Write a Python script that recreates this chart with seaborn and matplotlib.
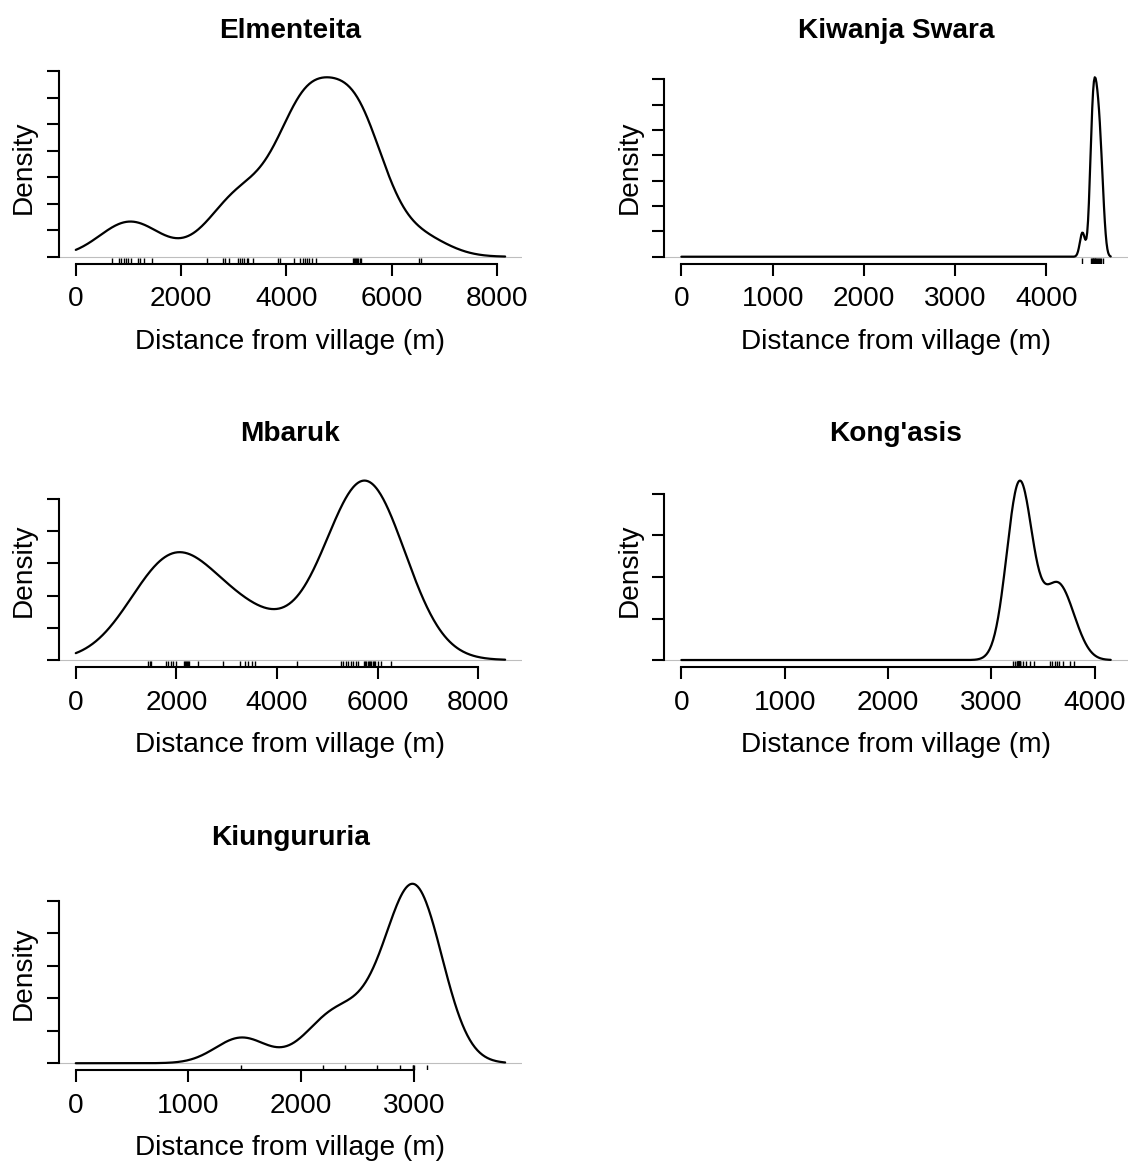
import numpy as np
import matplotlib
matplotlib.use("Agg")
import matplotlib.pyplot as plt
import seaborn as sns

# Distance (m) of each recorded location from the village, and how many
# records fall at that distance.
elmenteita_dist = [690, 830, 868, 913, 958, 996, 1041, 1181, 1219, 1296, 1456,
                   2491, 2798, 2830, 2913, 3073, 3118, 3150, 3201, 3245, 3278, 3373,
                   3833, 3872,
                   4152, 4267, 4312, 4351, 4396, 4428, 4479, 4556,
                   5270, 5290, 5310, 5330, 5350, 5370, 5390, 5410,
                   6525, 6550]
elmenteita_n = [1, 1, 1, 1, 1, 2, 1, 1, 1, 1, 1,
                1, 1, 2, 2, 2, 2, 2, 2, 2, 2, 2,
                1, 1,
                5, 6, 6, 6, 6, 6, 5, 4,
                6, 6, 5, 5, 5, 5, 5, 5,
                3, 3]

kiwanja_dist = [4394, 4485, 4495, 4505, 4513, 4520, 4527,
                4535, 4547, 4558, 4566, 4576, 4587, 4600, 4620]
kiwanja_n = [1, 1, 1, 1, 1, 1, 1,
             1, 1, 1, 1, 1, 1, 1, 1]

mbaruk_dist = [1444, 1475, 1505, 1795, 1841, 1894, 1941, 1994,
               2160, 2180, 2200, 2220, 2240, 2258, 2425, 2934,
               3266, 3366, 3432, 3498, 3565, 4405,
               5274, 5320, 5373, 5420, 5473, 5519, 5572, 5619,
               5725, 5750, 5775, 5800, 5825, 5850, 5875, 5900, 5925, 5950,
               6016, 6062, 6262]
mbaruk_n = [2, 1, 2, 1, 1, 1, 1, 1,
            1, 1, 1, 1, 1, 1, 1, 1,
            1, 1, 1, 1, 1, 1,
            1, 1, 1, 1, 1, 1, 1, 1,
            2, 2, 2, 2, 2, 2, 2, 2, 1, 1,
            1, 1, 1]

kongasis_dist = [3209, 3226, 3248, 3252, 3255, 3258, 3262, 3265, 3268, 3271, 3275,
                 3278, 3281, 3306, 3339, 3371, 3410, 3565, 3590, 3613, 3636, 3661,
                 3693, 3758, 3806]
kongasis_n = [1, 1, 1, 1, 1, 1, 1, 1, 1, 1, 1,
              1, 1, 1, 1, 1, 1, 1, 1, 1, 1, 1,
              1, 1, 1]

kiunguruia_dist = [1471, 2196, 2388, 2678, 2876, 2990, 2995, 3000, 3121]
kiunguruia_n = [1, 1, 1, 1, 1, 2, 1, 1, 2]

sites = ["Elmenteita", "Kiwanja Swara", "Mbaruk", "Kong'asis", "Kiungururia"]
site_data = [(elmenteita_dist, elmenteita_n), (kiwanja_dist, kiwanja_n),
             (mbaruk_dist, mbaruk_n), (kongasis_dist, kongasis_n),
             (kiunguruia_dist, kiunguruia_n)]
# Gaussian kernel bandwidth (m) for each site
bandwidths = [535, 28, 758, 117, 230]


def kde_from_zero(dist, counts, bw, npts=512):
    """Weighted Gaussian KDE evaluated from 0 to max + 3*bw."""
    x = np.asarray(dist, float)
    w = np.asarray(counts, float)
    grid = np.linspace(0.0, x.max() + 3 * bw, npts)
    z = (grid[:, None] - x[None, :]) / bw
    dens = (np.exp(-0.5 * z ** 2) * w).sum(axis=1) / (w.sum() * bw * np.sqrt(2 * np.pi))
    return grid, dens


def pretty_ticks(lo, hi, n=5, h=0.8, h5=1.7):
    """Round tick positions inside [lo, hi], chosen the way R's axis() does."""
    cell = (hi - lo) / n
    base = 10 ** np.floor(np.log10(cell))
    unit = base
    if 2 * base - cell < h * (cell - unit):
        unit = 2 * base
        if 5 * base - cell < h5 * (cell - unit):
            unit = 5 * base
            if 10 * base - cell < h * (cell - unit):
                unit = 10 * base
    first = np.ceil(lo / unit - 1e-7)
    last = np.floor(hi / unit + 1e-7)
    return np.arange(first, last + 1) * unit


sns.set_theme(style="ticks")
plt.rcParams["font.family"] = ["Liberation Sans", "DejaVu Sans"]
plt.rcParams.update({"axes.linewidth": 1.5, "text.color": "black",
                     "axes.labelcolor": "black", "xtick.color": "black",
                     "ytick.color": "black", "axes.edgecolor": "black"})

FS = 20.2
W, H = 1136, 1167
fig = plt.figure(figsize=(W / 100, H / 100), dpi=100)

col_left = [58.6, 664.2]
row_bottom = [263.9, 667.2, 1070.4]
panel_w, panel_h = 463.7, 193.8

for i, (name, (dist, counts), bw) in enumerate(zip(sites, site_data, bandwidths)):
    r, c = divmod(i, 2)
    ax = fig.add_axes([col_left[c] / W, (H - row_bottom[r]) / H, panel_w / W, panel_h / H])
    grid, dens = kde_from_zero(dist, counts, bw)
    xmax, ymax = grid[-1], dens.max()
    xlim = (-0.04 * xmax, 1.04 * xmax)
    ylim = (-0.04 * ymax, 1.04 * ymax)

    ax.axhline(0, color="#bebebe", lw=0.8, zorder=1)
    sns.lineplot(x=grid, y=dens, ax=ax, color="black", lw=1.6, zorder=3)
    sns.rugplot(x=np.asarray(dist, float), ax=ax, height=0.03, color="black",
                lw=0.8, expand_margins=False, zorder=2)

    ax.set_xlim(*xlim)
    ax.set_ylim(*ylim)
    xt = pretty_ticks(*xlim)
    yt = pretty_ticks(*ylim)
    ax.set_xticks(xt)
    ax.set_xticklabels([str(int(round(v))) for v in xt])
    ax.set_yticks(yt)
    ax.tick_params(axis="both", direction="out", length=8.6, width=1.5,
                   color="black", labelsize=FS, pad=7.5)
    ax.tick_params(axis="y", labelleft=False)
    sns.despine(ax=ax)
    ax.spines["bottom"].set_bounds(xt[0], xt[-1])
    ax.spines["left"].set_bounds(yt[0], yt[-1])

    ax.set_xlabel("Distance from village (m)", fontsize=FS, labelpad=12)
    ax.set_ylabel("Density", fontsize=FS, labelpad=7)
    ax.set_title(name, fontsize=FS, fontweight="bold", pad=23)

fig.savefig("out.png", dpi=100, facecolor="white")
